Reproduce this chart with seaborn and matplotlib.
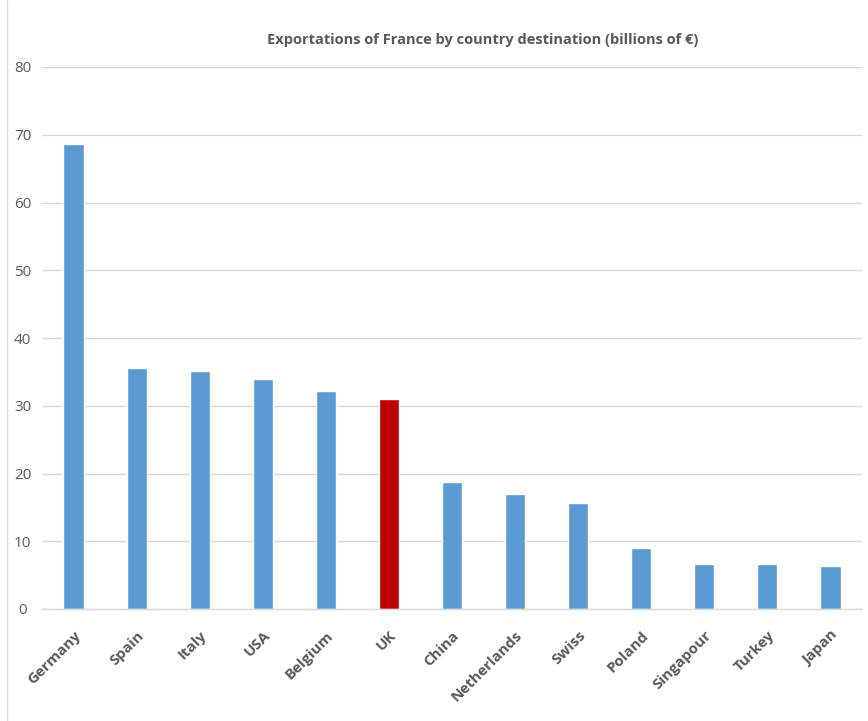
import matplotlib
matplotlib.use("Agg")
import matplotlib.pyplot as plt
import seaborn as sns
import pandas as pd
from matplotlib.lines import Line2D

countries = ["Germany", "Spain", "Italy", "USA", "Belgium", "UK", "China",
             "Netherlands", "Swiss", "Poland", "Singapour", "Turkey", "Japan"]
exports = [68.6, 35.5, 35.1, 33.9, 32.2, 31.0, 18.7, 17.0, 15.6, 9.0, 6.7, 6.6, 6.4]
highlight = "UK"
y_ticks = [0, 10, 20, 30, 40, 50, 60, 70, 80]

BLUE = "#5B9BD5"
RED = "#C00000"
TEXT = "#595959"

df = pd.DataFrame({"country": countries, "exports": exports})
palette = {c: (RED if c == highlight else BLUE) for c in countries}

sns.set_theme(style="white")
plt.rcParams["font.family"] = ["Open Sans", "DejaVu Sans"]

fig = plt.figure(figsize=(8.68, 7.21), dpi=100)
ax = fig.add_axes([42 / 868, 112 / 721, 820 / 868, 542 / 721])

sns.barplot(data=df, x="country", y="exports", hue="country", palette=palette,
            width=0.32, legend=False, ax=ax, saturation=1)

ax.set_ylim(0, 80)
ax.set_xlim(-0.5, len(countries) - 0.5)
ax.set_yticks(y_ticks)
ax.yaxis.grid(True, color="#D9D9D9", linewidth=1)
ax.set_axisbelow(True)
for side in ["left", "right", "top"]:
    ax.spines[side].set_visible(False)
ax.spines["bottom"].set_color("#D9D9D9")
ax.spines["bottom"].set_linewidth(1)

ax.set_xlabel("")
ax.set_ylabel("")
ax.tick_params(axis="y", length=0, pad=14, labelsize=11, labelcolor=TEXT)
ax.tick_params(axis="x", length=0, pad=14, labelsize=10.8, labelcolor=TEXT)
for lbl in ax.get_yticklabels():
    lbl.set_horizontalalignment("center")
for lbl in ax.get_xticklabels():
    lbl.set_rotation(45)
    lbl.set_horizontalalignment("right")
    lbl.set_rotation_mode("anchor")
    lbl.set_fontweight("bold")

fig.text(483 / 868, 1 - 40 / 721, "Exportations of France by country destination (billions of €)",
         ha="center", va="center", fontsize=10.5, fontweight="bold", color=TEXT)

# thin frame line on the left edge of the chart area
fig.add_artist(Line2D([7 / 868, 7 / 868], [0, 1], transform=fig.transFigure,
                      color="#D9D9D9", linewidth=1))

fig.savefig("out.png", dpi=100, facecolor="white")
